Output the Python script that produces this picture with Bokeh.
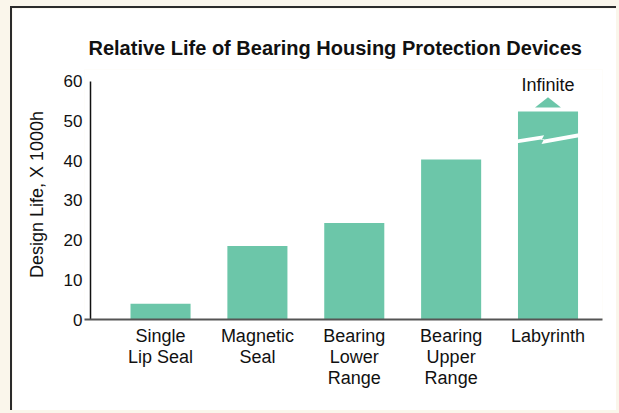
from bokeh.plotting import figure
from bokeh.models import Range1d, FixedTicker, Label
from bokeh.embed import file_html
from bokeh.resources import INLINE

# ---- data ----
categories = ["Single\nLip Seal", "Magnetic\nSeal", "Bearing\nLower\nRange",
              "Bearing\nUpper\nRange", "Labyrinth"]
design_life = [4, 18.5, 24.3, 40.3, 52.4]
y_ticks = [0, 10, 20, 30, 40, 50, 60]
title_text = "Relative Life of Bearing Housing Protection Devices"
y_label = "Design Life, X 1000h"
infinite_label = "Infinite"

# ---- styling constants ----
FONT = "Liberation Sans"
BAR_COLOR = "#6cc6a9"
bar_width = 0.62
x_pad_left = 0.785
x_pad_right = 0.5626
y_headroom = 3            # room above the top tick for the "Infinite" label
axis_gap = 0.062          # y-axis line sits a little right of the x-axis start
break_level = 45          # level of the "broken bar" zigzag
break_dx = [-0.32, -0.04, -0.067, 0.32, 0.32, -0.067, -0.04, -0.32]
break_dy = [0.37, 1.46, 0.25, 1.96, 0.95, -0.76, 0.5, -0.56]

positions = list(range(1, len(categories) + 1))
x_start = positions[0] - x_pad_left
x_end = positions[-1] + x_pad_right

p = figure(width=606, height=404, output_backend="svg", toolbar_location=None,
           x_range=Range1d(x_start, x_end),
           y_range=Range1d(y_ticks[0], y_ticks[-1] + y_headroom),
           min_border_left=72, min_border_right=16, min_border_top=61,
           min_border_bottom=93, title=title_text)

p.styles = {"border-left": "2px solid #2b2b2b", "border-top": "2px solid #2b2b2b",
            "margin-left": "10px", "margin-top": "6px"}

p.background_fill_color = "white"
p.border_fill_color = "white"
p.outline_line_color = None
p.grid.visible = False

# title
p.title.text_font = FONT
p.title.text_font_size = "20px"
p.title.text_font_style = "bold"
p.title.text_color = "#111111"
p.title.align = "left"
p.title.offset = 4
p.title.standoff = 22

# y-axis line (from first to last tick), a little right of the x-axis start
axis_x = x_start + axis_gap
p.segment(x0=[axis_x], y0=[y_ticks[0]], x1=[axis_x], y1=[y_ticks[-1]],
          line_color="#111111", line_width=1.5)

# bars
p.vbar(x=positions, top=design_life, bottom=0, width=bar_width,
       fill_color=BAR_COLOR, line_color=None)

# broken-bar zigzag on the last bar
last_x = positions[-1]
last_v = design_life[-1]
p.patch([last_x + d for d in break_dx], [break_level + d for d in break_dy],
        fill_color="white", line_color=None)

# "infinite" arrow & label
p.patch([last_x - 0.134, last_x, last_x + 0.134],
        [last_v + 1.0, last_v + 3.6, last_v + 1.0],
        fill_color=BAR_COLOR, line_color=None)
p.add_layout(Label(x=last_x, y=last_v + 6.7, text=infinite_label,
                   text_font=FONT, text_font_size="18px", text_color="#111111",
                   text_align="center", text_baseline="middle"))

# x axis
xa = p.xaxis[0]
xa.ticker = FixedTicker(ticks=positions)
xa.major_label_overrides = {pos: lab for pos, lab in zip(positions, categories)}
xa.major_label_text_font = FONT
xa.major_label_text_font_size = "18px"
xa.major_label_text_color = "#111111"
xa.major_label_text_line_height = 1.05
xa.major_label_standoff = 6
xa.major_tick_line_color = None
xa.major_tick_out = 0
xa.major_tick_in = 0
xa.minor_tick_line_color = None
xa.axis_line_color = "#555555"
xa.axis_line_width = 2

# y axis
ya = p.yaxis[0]
ya.ticker = FixedTicker(ticks=y_ticks)
ya.axis_label = y_label
ya.axis_label_text_font = FONT
ya.axis_label_text_font_size = "18px"
ya.axis_label_text_font_style = "normal"
ya.axis_label_text_color = "#111111"
ya.axis_label_standoff = 14
ya.major_label_text_font = FONT
ya.major_label_text_font_size = "17px"
ya.major_label_text_color = "#111111"
ya.major_label_standoff = 2
ya.major_tick_line_color = None
ya.major_tick_out = 0
ya.major_tick_in = 0
ya.minor_tick_line_color = None
ya.axis_line_color = None

html = file_html(p, INLINE)
html = html.replace("</head>", "<style>html,body{background:#faf6eb;}</style></head>", 1)
open("out.html", "w").write(html)
